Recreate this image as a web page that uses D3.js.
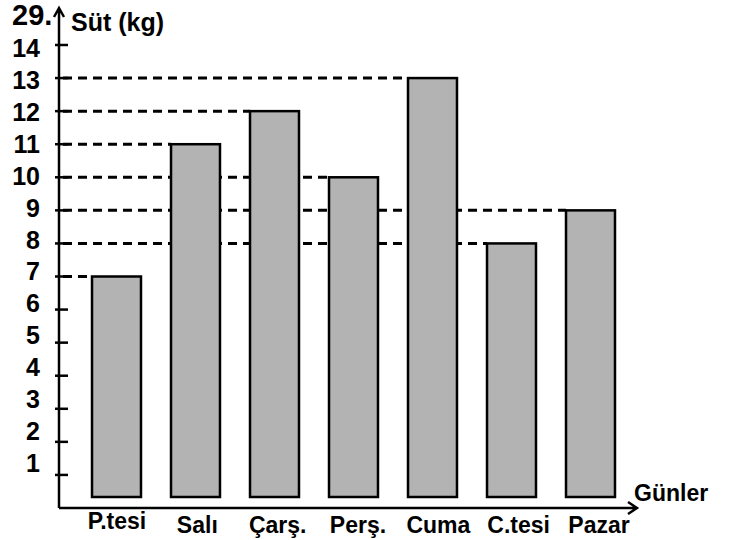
<!DOCTYPE html>
<html>
<head>
<meta charset="utf-8">
<script src="https://cdn.jsdelivr.net/npm/d3@7"></script>
<style>
  body { margin: 0; background: #fff; }
  text { font-family: "Liberation Sans", Arial, sans-serif; font-weight: bold; fill: #000; }
</style>
</head>
<body>
<div id="chart"></div>
<script>
// data
var days = ["P.tesi", "Salı", "Çarş.", "Perş.", "Cuma", "C.tesi", "Pazar"];
var milk = [7, 11, 12, 10, 13, 8, 9];
var yTicks = [1, 2, 3, 4, 5, 6, 7, 8, 9, 10, 11, 12, 13, 14];

var width = 730, height = 540;

var svg = d3.select("#chart")
  .append("svg")
  .attr("width", width)
  .attr("height", height);

// scales
var y = d3.scaleLinear().domain([0, 14]).range([508, 45]);
var yLabel = d3.scaleLinear().domain([1, 14]).range([463, 48]);
var x = d3.scaleBand()
  .domain(days)
  .range([77, 630])
  .paddingInner(0.38)
  .paddingOuter(0.19);
var xLabel = d3.scalePoint().domain(days).range([117, 599]);

var axisX = 59;
var barBase = y(0) - 11;

// dashed guide lines from axis to each bar
svg.selectAll("line.guide")
  .data(milk)
  .enter()
  .append("line")
  .attr("class", "guide")
  .attr("x1", axisX + 4)
  .attr("x2", function(d, i) { return x(days[i]); })
  .attr("y1", function(d) { return y(d); })
  .attr("y2", function(d) { return y(d); })
  .style("stroke", "#000")
  .style("stroke-width", 3)
  .style("stroke-dasharray", "9,6");

// bars
svg.selectAll("rect.bar")
  .data(milk)
  .enter()
  .append("rect")
  .attr("class", "bar")
  .attr("x", function(d, i) { return x(days[i]); })
  .attr("y", function(d) { return y(d); })
  .attr("width", x.bandwidth())
  .attr("height", function(d) { return barBase - y(d); })
  .style("fill", "#b3b3b3")
  .style("stroke", "#000")
  .style("stroke-width", 2.5);

// axes
var axisG = svg.append("g")
  .style("stroke", "#000")
  .style("stroke-width", 2.5)
  .style("fill", "none");

axisG.append("path")
  .attr("d", `M ${axisX} ${y(0)} L ${axisX} 8 M ${axisX - 5} 17 L ${axisX} 8 L ${axisX + 5} 17`);
axisG.append("path")
  .attr("d", `M ${axisX} ${y(0)} L 637 ${y(0)} M 628 ${y(0) - 6} L 637 ${y(0)} L 628 ${y(0) + 6}`);

// y ticks
axisG.selectAll("line.tick")
  .data(yTicks)
  .enter()
  .append("line")
  .attr("class", "tick")
  .attr("x1", axisX - 4)
  .attr("x2", axisX + 9)
  .attr("y1", function(d) { return y(d); })
  .attr("y2", function(d) { return y(d); });

// y tick labels
svg.selectAll("text.ylab")
  .data(yTicks)
  .enter()
  .append("text")
  .attr("class", "ylab")
  .attr("x", 40)
  .attr("y", function(d) { return yLabel(d); })
  .attr("dy", "0.36em")
  .attr("text-anchor", "end")
  .style("font-size", "25px")
  .text(function(d) { return d; });

// x labels
svg.selectAll("text.xlab")
  .data(days)
  .enter()
  .append("text")
  .attr("class", "xlab")
  .attr("x", function(d) { return xLabel(d); })
  .attr("y", function(d, i) { return i == 0 ? 529 : 533; })
  .attr("text-anchor", "middle")
  .style("font-size", "23px")
  .text(function(d) { return d; });

// titles
svg.append("text")
  .attr("x", 12)
  .attr("y", 25)
  .style("font-size", "29px")
  .text("29.");

svg.append("text")
  .attr("x", 71)
  .attr("y", 31)
  .style("font-size", "25px")
  .text("Süt (kg)");

svg.append("text")
  .attr("x", 634)
  .attr("y", 501)
  .style("font-size", "23px")
  .text("Günler");
</script>
</body>
</html>
